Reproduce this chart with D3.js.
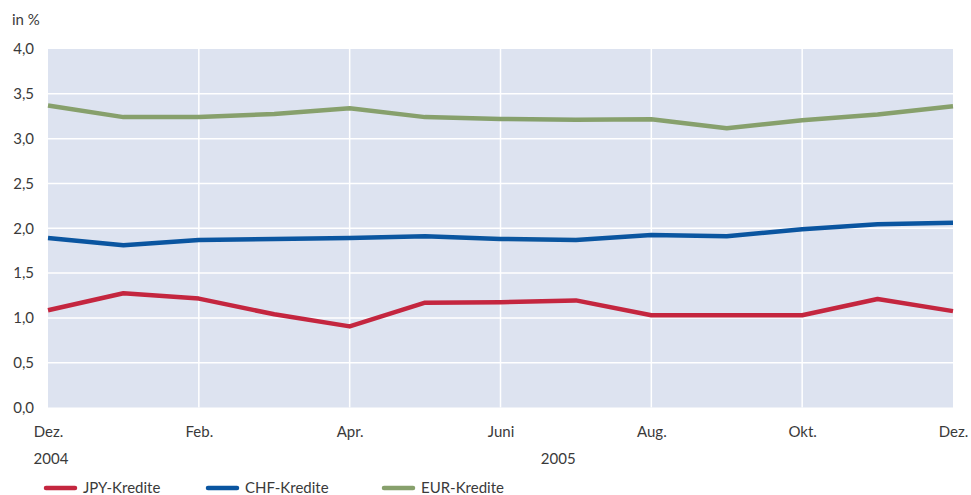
<!DOCTYPE html>
<html>
<head>
<meta charset="utf-8">
<script src="https://cdn.jsdelivr.net/npm/d3@7"></script>
<style>
  html, body { margin: 0; padding: 0; background: #fff; }
  svg { display: block; }
  text { font-family: "Lato", "Open Sans", sans-serif; fill: #3a3a3a; }
</style>
</head>
<body>
<svg id="chart" width="971" height="495"></svg>
<script>
// Months from Dez. 2004 to Dez. 2005
const months = ["2004-12","2005-01","2005-02","2005-03","2005-04","2005-05","2005-06",
                "2005-07","2005-08","2005-09","2005-10","2005-11","2005-12"];
const monthLabels = ["Dez.","","Feb.","","Apr.","","Juni","","Aug.","","Okt.","","Dez."];

// Interest rates in %
const jpy = [1.085, 1.275, 1.215, 1.04, 0.905, 1.17, 1.175, 1.195, 1.03, 1.03, 1.03, 1.21, 1.075];
const chf = [1.89, 1.81, 1.87, 1.88, 1.89, 1.91, 1.88, 1.87, 1.925, 1.91, 1.99, 2.045, 2.06];
const eur = [3.37, 3.24, 3.24, 3.275, 3.34, 3.24, 3.22, 3.21, 3.215, 3.115, 3.205, 3.27, 3.36];

const yTicks = [0, 0.5, 1, 1.5, 2, 2.5, 3, 3.5, 4];
const seriesNames = ["JPY-Kredite", "CHF-Kredite", "EUR-Kredite"];
const seriesColors = ["#c4263f", "#0a55a0", "#87a06c"];

const svg = d3.select("#chart");
const plotLeft = 48, plotRight = 953, plotTop = 49, plotBottom = 407.5;

const x = d3.scalePoint().domain(months).range([plotLeft, plotRight]);
const y = d3.scaleLinear().domain([0, 4]).range([plotBottom, plotTop]);
const fmt = d => d.toFixed(1).replace(".", ",");

// Plot background
svg.append("rect")
  .attr("x", plotLeft).attr("y", plotTop)
  .attr("width", plotRight - plotLeft).attr("height", plotBottom - plotTop)
  .attr("fill", "#dde3f0");

// Horizontal grid
svg.append("g")
  .selectAll("line")
  .data(yTicks.filter(t => t > 0 && t < 4))
  .join("line")
  .attr("x1", plotLeft).attr("x2", plotRight)
  .attr("y1", d => y(d)).attr("y2", d => y(d))
  .attr("stroke", "#fff").attr("stroke-width", 1.5);

// Vertical grid at every second month
svg.append("g")
  .selectAll("line")
  .data(months.filter((m, i) => i % 2 === 0 && i > 0 && i < months.length - 1))
  .join("line")
  .attr("x1", d => x(d)).attr("x2", d => x(d))
  .attr("y1", plotTop).attr("y2", plotBottom)
  .attr("stroke", "#fff").attr("stroke-width", 1.5);

// Y axis labels
const yAxis = d3.axisLeft(y).tickValues(yTicks).tickFormat(fmt).tickSize(0).tickPadding(0);
svg.append("g")
  .attr("transform", "translate(34,0)")
  .call(yAxis)
  .call(g => g.select(".domain").remove())
  .call(g => g.selectAll("text")
    .style("font-family", "Lato, 'Open Sans', sans-serif")
    .style("font-size", "15px").attr("fill", "#3a3a3a"));

svg.append("text")
  .attr("x", 12).attr("y", 25)
  .style("font-size", "15px")
  .text("in %");

// X axis labels
const xAxis = d3.axisBottom(x).tickFormat((d, i) => monthLabels[i]).tickSize(0).tickPadding(0);
svg.append("g")
  .attr("transform", "translate(0,426)")
  .call(xAxis)
  .call(g => g.select(".domain").remove())
  .call(g => g.selectAll("text")
    .style("font-family", "Lato, 'Open Sans', sans-serif")
    .style("font-size", "15px").attr("fill", "#3a3a3a"));

svg.append("text")
  .attr("x", x(months[0]) + 3).attr("y", 464)
  .attr("text-anchor", "middle")
  .style("font-size", "15px")
  .text("2004");
svg.append("text")
  .attr("x", (x(months[6]) + x(months[7])) / 2 + 20).attr("y", 464)
  .attr("text-anchor", "middle")
  .style("font-size", "15px")
  .text("2005");

// Lines
const line = d3.line().x((d, i) => x(months[i])).y(d => y(d));
[jpy, chf, eur].forEach((vals, k) => {
  svg.append("path")
    .datum(vals)
    .attr("d", line)
    .attr("fill", "none")
    .attr("stroke", seriesColors[k])
    .attr("stroke-width", 4.5)
    .attr("stroke-linejoin", "round");
});

// Legend
const legendX = [46, 208, 384];
const legend = svg.append("g");
seriesNames.forEach((name, k) => {
  legend.append("line")
    .attr("x1", legendX[k]).attr("x2", legendX[k] + 29)
    .attr("y1", 488).attr("y2", 488)
    .attr("stroke", seriesColors[k])
    .attr("stroke-width", 4.5)
    .attr("stroke-linecap", "round");
  legend.append("text")
    .attr("x", legendX[k] + 37).attr("y", 493)
    .style("font-size", "15px")
    .text(name);
});
</script>
</body>
</html>
